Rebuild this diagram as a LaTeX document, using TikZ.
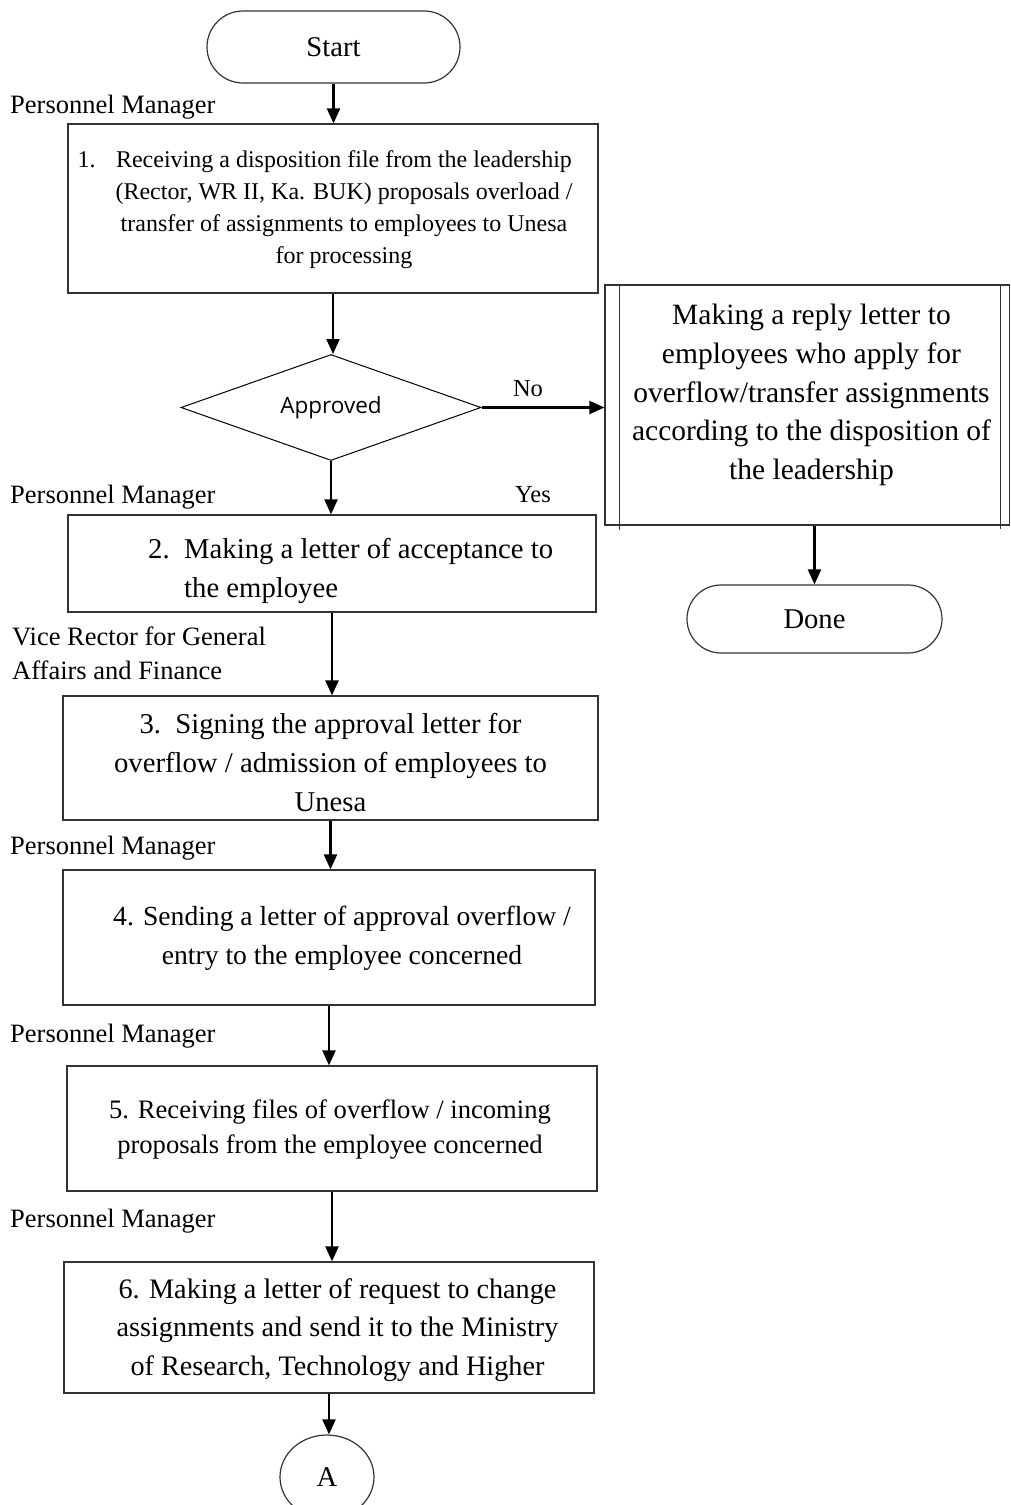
\documentclass[tikz,border=0pt]{standalone}
\usepackage{fontspec}
\setmainfont{Liberation Serif}
\newfontfamily\sansf{Open Sans}
\usetikzlibrary{shapes.geometric,shapes.misc,arrows.meta}
\begin{document}
\begin{tikzpicture}[x=1pt,y=-1pt,
  box/.style={draw=black!80, line width=1.2pt, rectangle, inner sep=0pt},
  term/.style={draw=black!80, line width=1.2pt, rounded rectangle, inner sep=0pt, font=\fontsize{28.6}{34}\selectfont},
  lab/.style={inner sep=0pt, anchor=west, align=left, font=\fontsize{26.5}{34}\selectfont},
  small/.style={inner sep=0pt, font=\fontsize{24.5}{30}\selectfont},
  txt/.style={inner sep=0pt, align=center, font=\fontsize{28.7}{39}\selectfont},
  arr/.style={line width=2.2pt, -{Triangle[length=15pt,width=13pt]}},
  thin/.style={draw=black!80, line width=1.2pt}
]
\useasboundingbox (0,0) rectangle (1010,1505);

% Start
\node[term, minimum width=253pt, minimum height=72pt] (start) at (333.5,47) {Start};
\node[lab] (pm1) at (10,107) {Personnel Manager};

% Box 1
\node[box, minimum width=530pt, minimum height=169pt] (b1) at (333,208.5) {};
\node[inner sep=0pt, font=\fontsize{24}{32}\selectfont] (b1t) at (325,209)
 {\begin{tabular}{@{}l@{\hspace{20pt}}c@{}}
 1.&Receiving a disposition file from the leadership\\
   &(Rector, WR II, Ka. BUK) proposals overload /\\
   &transfer of assignments to employees to Unesa\\
   &for processing
 \end{tabular}};

% Decision
\node[diamond, draw=black, line width=1pt, minimum width=300pt, minimum height=106pt,
      inner sep=0pt, aspect=2.83, font=\sansf\fontsize{22.5}{27}\selectfont] (dec) at (331,407.5) {Approved};
\node[small] (no) at (528,389) {No};

% Right box (predefined process)
\node[box, minimum width=404.5pt, minimum height=240pt] (rb) at (807.25,405) {};
\draw[thin] ([xshift=15pt]rb.north west) -- ([xshift=15pt,yshift=-4pt]rb.south west);
\draw[thin] ([xshift=-9.5pt]rb.north east) -- ([xshift=-9.5pt,yshift=-3pt]rb.south east);
\node[inner sep=0pt, align=center, font=\fontsize{29.5}{38.8}\selectfont] (rbt) at (811.5,395)
 {Making a reply letter to\\employees who apply for\\overflow/transfer assignments\\according to the disposition of\\the leadership};

% Done
\node[term, minimum width=255pt, minimum height=68pt] (done) at (814.5,619) {Done};

% Box 2
\node[lab] (pm2) at (10,497) {Personnel Manager};
\node[small] (yes) at (533,495) {Yes};
\node[box, minimum width=528pt, minimum height=97pt] (b2) at (332,563.5) {};
\node[inner sep=0pt, anchor=west, font=\fontsize{28.7}{39}\selectfont] (b2t) at (148,570)
 {\begin{tabular}{@{}l@{\hspace{14.5pt}}l@{}}
 2.&Making a letter of acceptance to\\
   &the employee
 \end{tabular}};

% Box 3
\node[lab] (vr) at (12,653) {Vice Rector for General\\Affairs and Finance};
\node[box, minimum width=535pt, minimum height=124pt] (b3) at (330.5,758) {};
\node[txt] (b3t) at (330.5,763) {3.\ \ Signing the approval letter for\\overflow / admission of employees to\\Unesa};

% Box 4
\node[lab] (pm3) at (10,848) {Personnel Manager};
\node[box, minimum width=532pt, minimum height=135pt] (b4) at (329,937.5) {};
\node[txt, font=\fontsize{27.6}{39}\selectfont] (b4t) at (342,938.5) {4. Sending a letter of approval overflow /\\entry to the employee concerned};

% Box 5
\node[lab] (pm4) at (10,1036) {Personnel Manager};
\node[box, minimum width=530pt, minimum height=125pt] (b5) at (332,1128.5) {};
\node[txt, font=\fontsize{26.6}{35}\selectfont] (b5t) at (330,1129) {5. Receiving files of overflow / incoming\\proposals from the employee concerned};

% Box 6
\node[lab] (pm5) at (10,1221) {Personnel Manager};
\node[box, minimum width=530pt, minimum height=131pt] (b6) at (329,1327.5) {};
\node[txt, font=\fontsize{28.2}{38.5}\selectfont] (b6t) at (337.5,1330) {6. Making a letter of request to change\\assignments and send it to the Ministry\\of Research, Technology and Higher};

% Connector A
\node[ellipse, draw=black!80, line width=1.2pt, minimum width=94pt, minimum height=84pt, inner sep=0pt,
      font=\fontsize{28.6}{34}\selectfont] (A) at (327,1477) {A};

% Arrows
\draw[arr] (start.south) -- (start.south |- b1.north);
\draw[arr] (b1.south) -- (b1.south |- dec.north);
\draw[arr] (dec.east) -- (dec.east -| rb.west);
\draw[arr] (dec.south) -- (dec.south |- b2.north);
\draw[arr] (done.north |- rb.south) -- (done.north);
\draw[arr] (b2.south) -- (b2.south |- b3.north);
\draw[arr] (b3.south) -- (b3.south |- b4.north);
\draw[arr] (b4.south) -- (b4.south |- b5.north);
\draw[arr] (b5.south) -- (b5.south |- b6.north);
\draw[arr] (b6.south) -- (b6.south |- A.north);
\end{tikzpicture}
\end{document}
